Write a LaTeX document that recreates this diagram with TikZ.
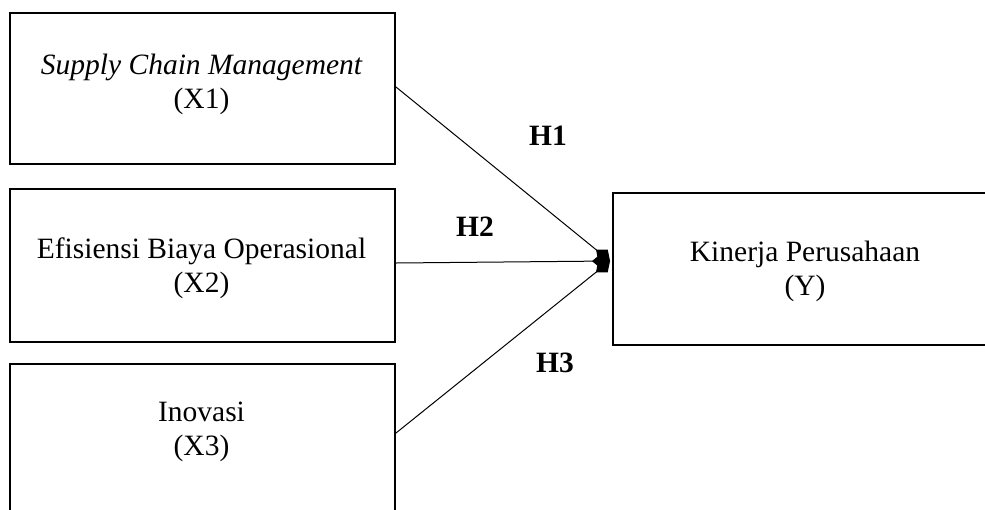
\documentclass[tikz,border=0pt]{standalone}
\usepackage{fontspec}
\setmainfont{Liberation Serif}
\usetikzlibrary{arrows.meta}
\begin{document}
\begin{tikzpicture}[x=1pt,y=-1pt,
  box/.style={draw, line width=2pt, rectangle, inner sep=0pt, anchor=north west},
  txt/.style={align=center, inner sep=0pt, font=\fontsize{29.5}{33.5}\selectfont},
  hyp/.style={inner sep=0pt, font=\fontsize{29.5}{33.5}\selectfont\bfseries},
  conn/.style={line width=1pt, -{Diamond[length=18pt,width=15pt]}}]
\useasboundingbox (0,0) rectangle (985,509);
\clip (0,0) rectangle (985,509);
% boxes
\node[box, minimum width=385pt, minimum height=151pt] (b1) at (9,12) {};
\node[box, minimum width=385pt, minimum height=153pt] (b2) at (9,188) {};
\node[box, minimum width=385pt, minimum height=200pt] (b3) at (9,363) {};
\node[box, minimum width=386pt, minimum height=152pt] (bY) at (612,192) {};
% texts
\node[txt] (t1) at (201.5,84.5) {{\itshape Supply Chain Management}\\(X1)};
\node[txt] (t2) at (201.5,268) {Efisiensi Biaya Operasional\\(X2)};
\node[txt] (t3) at (201.5,432) {Inovasi\\(X3)};
\node[txt] (tY) at (805,271.5) {Kinerja Perusahaan\\(Y)};
% hypothesis labels
\node[hyp] (h1) at (548,136) {H1};
\node[hyp] (h2) at (475,227) {H2};
\node[hyp] (h3) at (555,363) {H3};
% connectors
\coordinate (tip) at ([xshift=-2pt,yshift=8pt]bY.west);
\draw[conn] ([yshift=1.5pt]b1.east) -- (tip);
\draw[conn] ([yshift=2.5pt]b2.east) -- (tip);
\draw[conn] ([yshift=31pt]b3.east) -- (tip);
\end{tikzpicture}
\end{document}
